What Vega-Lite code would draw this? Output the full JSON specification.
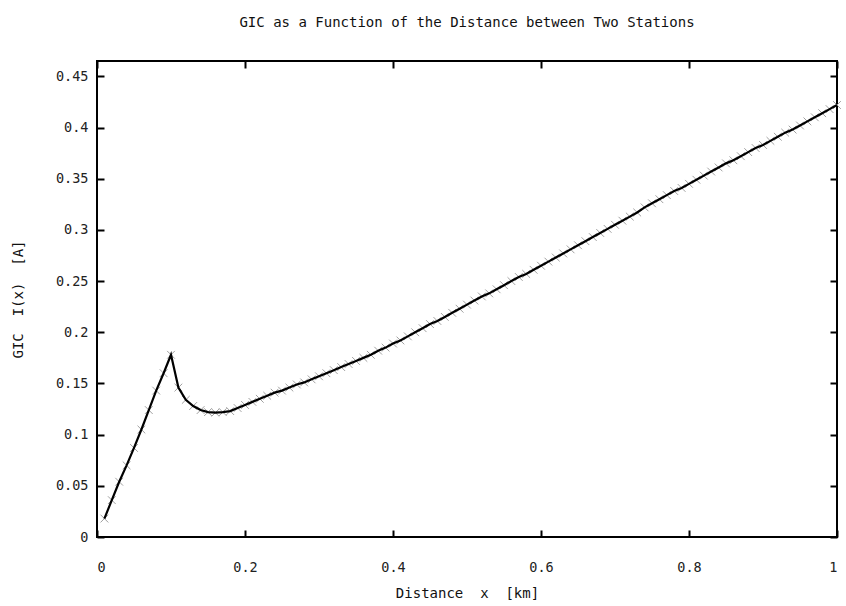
{
  "$schema": "https://vega.github.io/schema/vega-lite/v6.json",
  "width": 740,
  "height": 476,
  "autosize": {"type": "none"},
  "padding": {"left": 97, "top": 61, "right": 9, "bottom": 69},
  "background": "white",
  "title": {
    "text": "GIC as a Function of the Distance between Two Stations",
    "font": "DejaVu Sans Mono",
    "fontSize": 14,
    "fontWeight": "normal",
    "color": "#111",
    "anchor": "middle",
    "offset": 30
  },
  "config": {
    "view": {"stroke": "#000", "strokeWidth": 2},
    "axis": {
      "labelFont": "DejaVu Sans Mono",
      "labelFontSize": 13.5,
      "labelColor": "#222",
      "titleFont": "DejaVu Sans Mono",
      "titleFontSize": 14,
      "titleFontWeight": "normal",
      "titleColor": "#111",
      "domain": false,
      "grid": false,
      "tickColor": "#000",
      "tickWidth": 2,
      "tickSize": -7
    }
  },
  "data": {"values": [
    {"x":0.01,"y":0.018},{"x":0.02,"y":0.036},{"x":0.03,"y":0.054},{"x":0.04,"y":0.070},{"x":0.05,"y":0.087},
    {"x":0.06,"y":0.105},{"x":0.07,"y":0.124},{"x":0.08,"y":0.143},{"x":0.09,"y":0.160},{"x":0.10,"y":0.178},
    {"x":0.11,"y":0.146},{"x":0.12,"y":0.134},{"x":0.13,"y":0.128},{"x":0.14,"y":0.124},{"x":0.15,"y":0.122},
    {"x":0.16,"y":0.1215},{"x":0.17,"y":0.122},{"x":0.18,"y":0.123},{"x":0.19,"y":0.126},{"x":0.20,"y":0.129},
    {"x":0.21,"y":0.132},{"x":0.22,"y":0.135},{"x":0.23,"y":0.138},{"x":0.24,"y":0.141},{"x":0.25,"y":0.143},
    {"x":0.26,"y":0.146},{"x":0.27,"y":0.149},{"x":0.28,"y":0.151},{"x":0.29,"y":0.154},{"x":0.30,"y":0.157},
    {"x":0.31,"y":0.160},{"x":0.32,"y":0.163},{"x":0.33,"y":0.166},{"x":0.34,"y":0.169},{"x":0.35,"y":0.172},
    {"x":0.36,"y":0.175},{"x":0.37,"y":0.178},{"x":0.38,"y":0.182},{"x":0.39,"y":0.185},{"x":0.40,"y":0.189},
    {"x":0.41,"y":0.192},{"x":0.42,"y":0.196},{"x":0.43,"y":0.200},{"x":0.44,"y":0.204},{"x":0.45,"y":0.208},
    {"x":0.46,"y":0.211},{"x":0.47,"y":0.215},{"x":0.48,"y":0.219},{"x":0.49,"y":0.223},{"x":0.50,"y":0.227},
    {"x":0.51,"y":0.231},{"x":0.52,"y":0.235},{"x":0.53,"y":0.238},{"x":0.54,"y":0.242},{"x":0.55,"y":0.246},
    {"x":0.56,"y":0.250},{"x":0.57,"y":0.254},{"x":0.58,"y":0.257},{"x":0.59,"y":0.261},{"x":0.60,"y":0.265},
    {"x":0.61,"y":0.269},{"x":0.62,"y":0.273},{"x":0.63,"y":0.277},{"x":0.64,"y":0.281},{"x":0.65,"y":0.285},
    {"x":0.66,"y":0.289},{"x":0.67,"y":0.293},{"x":0.68,"y":0.297},{"x":0.69,"y":0.301},{"x":0.70,"y":0.305},
    {"x":0.71,"y":0.309},{"x":0.72,"y":0.313},{"x":0.73,"y":0.317},{"x":0.74,"y":0.322},{"x":0.75,"y":0.326},
    {"x":0.76,"y":0.330},{"x":0.77,"y":0.334},{"x":0.78,"y":0.338},{"x":0.79,"y":0.341},{"x":0.80,"y":0.345},
    {"x":0.81,"y":0.349},{"x":0.82,"y":0.353},{"x":0.83,"y":0.357},{"x":0.84,"y":0.361},{"x":0.85,"y":0.365},
    {"x":0.86,"y":0.368},{"x":0.87,"y":0.372},{"x":0.88,"y":0.376},{"x":0.89,"y":0.380},{"x":0.90,"y":0.383},
    {"x":0.91,"y":0.387},{"x":0.92,"y":0.391},{"x":0.93,"y":0.395},{"x":0.94,"y":0.398},{"x":0.95,"y":0.402},
    {"x":0.96,"y":0.406},{"x":0.97,"y":0.410},{"x":0.98,"y":0.414},{"x":0.99,"y":0.418},{"x":1.00,"y":0.422}
  ]},
  "layer": [
    {
      "mark": {"type": "point", "shape": "M-1,-1L1,1M1,-1L-1,1", "filled": false, "stroke": "#a0a0a0", "strokeWidth": 1, "size": 60, "opacity": 1, "clip": false},
      "encoding": {
        "x": {"field": "x", "type": "quantitative", "scale": {"domain": [0, 1], "nice": false},
          "axis": {"orient": "bottom", "values": [0, 0.2, 0.4, 0.6, 0.8, 1], "format": ".1~f", "labelPadding": 30, "title": "Distance\u00a0 x\u00a0 [km]", "titlePadding": 13}},
        "y": {"field": "y", "type": "quantitative", "scale": {"domain": [0, 0.465], "nice": false, "zero": true},
          "axis": {"orient": "left", "values": [0, 0.05, 0.1, 0.15, 0.2, 0.25, 0.3, 0.35, 0.4, 0.45], "format": ".2~f", "labelPadding": 16, "title": "GIC\u00a0 I(x)\u00a0 [A]", "titlePadding": 30}}
      }
    },
    {
      "mark": {"type": "line", "color": "#000", "strokeWidth": 2.2},
      "encoding": {
        "x": {"field": "x", "type": "quantitative",
          "axis": {"orient": "top", "values": [0, 0.2, 0.4, 0.6, 0.8, 1], "labels": false, "title": null}},
        "y": {"field": "y", "type": "quantitative",
          "axis": {"orient": "right", "values": [0, 0.05, 0.1, 0.15, 0.2, 0.25, 0.3, 0.35, 0.4, 0.45], "labels": false, "title": null}}
      }
    }
  ],
  "resolve": {"axis": {"x": "independent", "y": "independent"}}
}
